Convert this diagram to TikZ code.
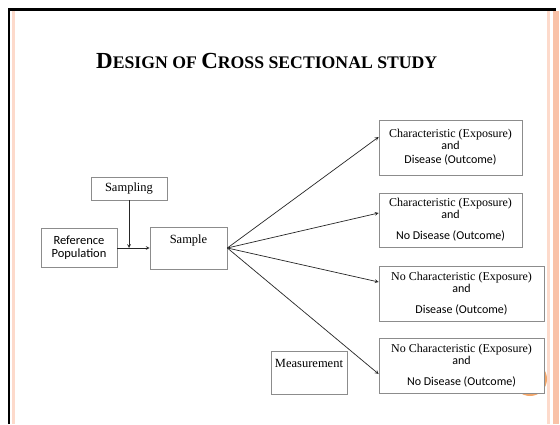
\documentclass[tikz,border=0pt]{standalone}
\usepackage{fontspec}
\setmainfont{Liberation Serif}
\newfontfamily\calibri{Carlito}
\usepackage{xcolor}
\usepackage{tikz}
\usetikzlibrary{arrows}
\definecolor{salmonlt}{HTML}{FDDACB}
\definecolor{salmondk}{HTML}{F9C2A8}
\definecolor{boxgray}{HTML}{8C8C8C}
\definecolor{ringorange}{HTML}{F2A66A}
\tikzstyle{plainbox} = [rectangle, draw=boxgray, line width=0.7pt, fill=white, inner sep=3pt, text centered, font=\fontsize{12.5}{13}\selectfont]
\tikzstyle{topbox} = [plainbox, inner sep=4pt, text height=12pt, text depth=22pt]
\tikzstyle{groupbox} = [plainbox, align=center, font=\fontsize{12}{12}\selectfont]
\tikzstyle{arrow} = [line width=0.7pt, ->, >=stealth, draw=black!85]
\newcommand{\sansline}[1]{{\calibri #1}}
\newcommand{\bigletter}[1]{{\fontsize{23}{26}\selectfont #1}}

\begin{document}
\begin{tikzpicture}[x=1pt, y=1pt]
    \useasboundingbox (0,0) rectangle (560,424);
    \fill [white] (0,0) rectangle (560,424);
    % slide frame
    \draw [salmonlt, line width=2.5pt] (13.5,0) -- (13.5,413);
    \draw [salmonlt, line width=3pt] (548.5,0) -- (548.5,413);
    \draw [salmondk, line width=6pt] (556,0) -- (556,413);
    \draw [black, line width=2.5pt] (9.2,0) -- (9.2,414.5) -- (556,414.5);
    \draw [ringorange, line width=2pt] (530,45) circle (16);

    \node (title) [anchor=base west, inner sep=0pt, font=\bfseries\fontsize{17.7}{21}\selectfont] at (96,355) {\bigletter{D}ESIGN OF \bigletter{C}ROSS SECTIONAL STUDY};

    \node (sampling) [plainbox, minimum width=76pt, minimum height=23pt] at (129,235.5) {Sampling};
    \node (refpop) [plainbox, minimum width=76pt, minimum height=39pt, align=center, font=\calibri\fontsize{12.5}{13}\selectfont] at (79,176) {Reference\\Population};
    \node (sample) [topbox, minimum width=77pt] at (188.5,176) {Sample};
    \node (measure) [topbox, minimum width=76pt, text depth=23pt] at (309,51.5) {Measurement};

    \node (dz1) [groupbox, minimum width=143pt, minimum height=55pt] at (450.5,276.5) {Characteristic (Exposure)\\\sansline{and}\\[2pt]\sansline{Disease (Outcome)}};
    \node (dz2) [groupbox, minimum width=143pt, minimum height=54pt] at (450.5,204) {Characteristic (Exposure)\\\sansline{and}\\[9pt]\sansline{No Disease (Outcome)}};
    \node (dz3) [groupbox, minimum width=165pt, minimum height=55pt] at (461.5,130.5) {No Characteristic (Exposure)\\\sansline{and}\\[9pt]\sansline{Disease (Outcome)}};
    \node (dz4) [groupbox, minimum width=165pt, minimum height=55pt] at (461.5,58.5) {No Characteristic (Exposure)\\\sansline{and}\\[9pt]\sansline{No Disease (Outcome)}};

    \draw [arrow] (sampling.south) -- (sampling.south |- sample.west);
    \draw [arrow] (refpop) -- (sample);
    \draw [arrow] (sample.east) -- ([yshift=10.5pt]dz1.west);
    \draw [arrow] (sample.east) -- ([yshift=7pt]dz2.west);
    \draw [arrow] (sample.east) -- ([yshift=11.5pt]dz3.west);
    \draw [arrow] (sample.east) -- ([yshift=-8.5pt]dz4.west);
\end{tikzpicture}
\end{document}
